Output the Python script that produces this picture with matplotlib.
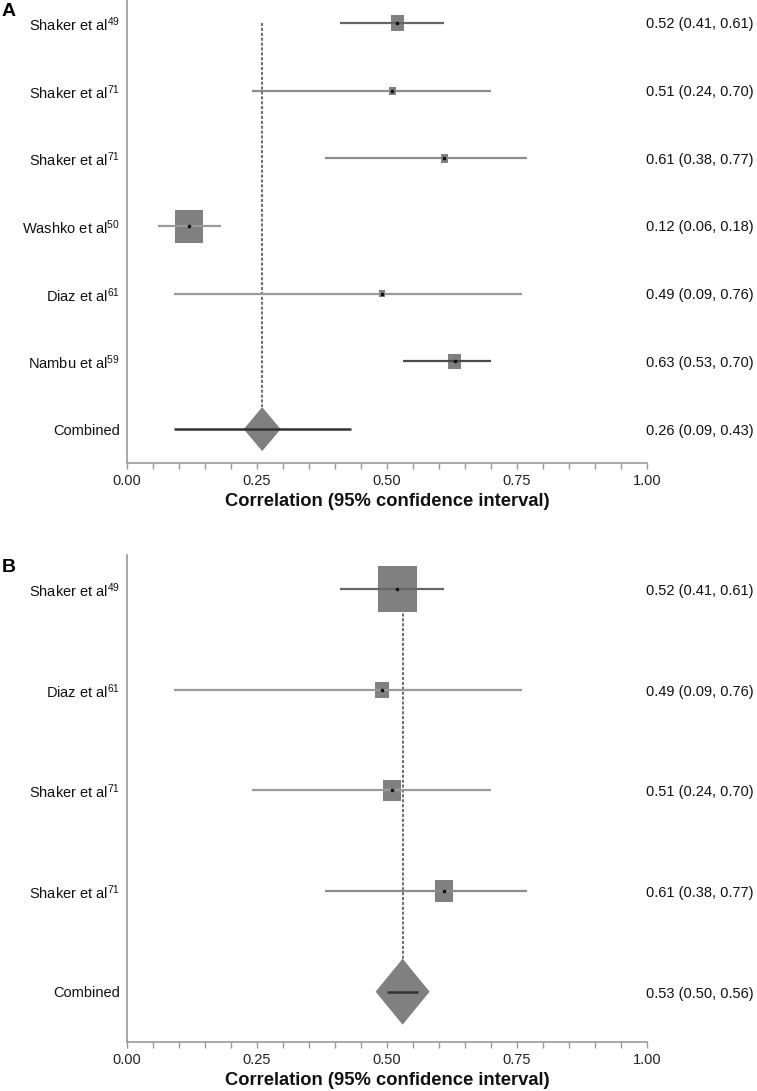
import matplotlib
matplotlib.use("Agg")
import matplotlib.pyplot as plt
from matplotlib.patches import Rectangle, Polygon
from matplotlib.ticker import MultipleLocator

# panel A
studies_a = ["Shaker et al$^{49}$", "Shaker et al$^{71}$", "Shaker et al$^{71}$",
             "Washko et al$^{50}$", "Diaz et al$^{61}$", "Nambu et al$^{59}$"]
r_a = [0.52, 0.51, 0.61, 0.12, 0.49, 0.63]
lo_a = [0.41, 0.24, 0.38, 0.06, 0.09, 0.53]
hi_a = [0.61, 0.70, 0.77, 0.18, 0.76, 0.70]
comb_a = (0.26, 0.09, 0.43)

# panel B
studies_b = ["Shaker et al$^{49}$", "Diaz et al$^{61}$", "Shaker et al$^{71}$", "Shaker et al$^{71}$"]
r_b = [0.52, 0.49, 0.51, 0.61]
lo_b = [0.41, 0.09, 0.24, 0.38]
hi_b = [0.61, 0.76, 0.70, 0.77]
comb_b = (0.53, 0.50, 0.56)

# styling (box side in px, line colours)
box_a = [13, 7, 7, 28, 6, 13]
line_a = ["#666666", "#8c8c8c", "#8c8c8c", "#9a9a9a", "#9a9a9a", "#4a4a4a"]
box_b = [39, 14, 18, 18]
line_b = ["#666666", "#9a9a9a", "#9a9a9a", "#8c8c8c"]

plt.rcParams.update({
    "font.family": ["Liberation Sans", "DejaVu Sans"],
    "mathtext.default": "regular",
    "font.size": 10.5,
})

W, H = 757, 1091
fig = plt.figure(figsize=(W / 100, H / 100), dpi=100)
BOXC, DIAC, SPINE = "#808080", "#808080", "#9a9a9a"


def fmt(e, l, h):
    return f"{e:.2f} ({l:.2f}, {h:.2f})"


def panel(top_px, bot_px, names, est, lo, hi, comb, boxes, lcols, diam_hw, diam_hh, letter):
    left_px, right_px = 127, 647
    ax = fig.add_axes([left_px / W, 1 - bot_px / H, (right_px - left_px) / W, (bot_px - top_px) / H])
    n = len(names)
    ax.set_xlim(0, 1)
    ax.set_ylim(n + 0.5, -0.34)
    row_px = (bot_px - top_px) / (n + 0.84)
    xpx = right_px - left_px
    for i in range(n):
        ax.plot([lo[i], hi[i]], [i, i], color=lcols[i], lw=1.6, solid_capstyle="butt", zorder=3)
        w = boxes[i] / xpx
        h = boxes[i] * 1.18 / row_px
        ax.add_patch(Rectangle((est[i] - w / 2, i - h / 2), w, h, facecolor=BOXC,
                               edgecolor="none", zorder=2))
        ax.plot(est[i], i, marker="s", ms=1.5, color="#111111", zorder=4)
    e, l, h = comb
    dw = diam_hw / xpx
    dh = diam_hh / row_px
    ax.add_patch(Polygon([(e - dw, n), (e, n - dh), (e + dw, n), (e, n + dh)],
                         closed=True, facecolor=DIAC, edgecolor="none", zorder=2))
    ax.plot([l, h], [n, n], color="#333333", lw=1.8, solid_capstyle="butt", zorder=3)
    ax.plot([e, e], [0, n - dh], color="#444444", lw=1.1, ls=(0, (2, 1.2)), zorder=1)

    ax.set_yticks(range(n + 1), names + ["Combined"])
    xr = (754 - left_px) / xpx
    for i, (a, b, c) in enumerate(zip(est, lo, hi)):
        ax.text(xr, i + 0.02, fmt(a, b, c), transform=ax.get_yaxis_transform(),
                ha="right", va="center", fontsize=10.5, color="#111111")
    ax.text(xr, n + 0.02, fmt(e, l, h), transform=ax.get_yaxis_transform(),
            ha="right", va="center", fontsize=10.5, color="#111111")

    ax.xaxis.set_major_locator(MultipleLocator(0.25))
    ax.xaxis.set_minor_locator(MultipleLocator(0.05))
    ax.xaxis.set_major_formatter(lambda v, p: f"{v:.2f}")
    ax.tick_params(axis="x", which="both", length=4, width=1, color=SPINE, direction="out",
                   labelsize=10.5, labelcolor="#222222", pad=4)
    ax.tick_params(axis="y", length=0, pad=5, labelsize=10.5, labelcolor="#111111")
    for s in ["top", "right"]:
        ax.spines[s].set_visible(False)
    for s in ["left", "bottom"]:
        ax.spines[s].set_color(SPINE)
        ax.spines[s].set_linewidth(1.2)
    ax.set_xlabel("Correlation (95% confidence interval)", fontsize=13.2,
                  fontweight="bold", labelpad=3.5, color="#111111")
    ax.patch.set_alpha(0)
    fig.text(2 / W, 1 - (top_px + 12) / H, letter, fontsize=14, fontweight="bold",
             ha="left", va="center")
    return ax


panel(0, 463, studies_a, r_a, lo_a, hi_a, comb_a, box_a, line_a, 18.5, 22, "A")
panel(555, 1042, studies_b, r_b, lo_b, hi_b, comb_b, box_b, line_b, 27, 33, "B")

fig.savefig("out.png", dpi=100, facecolor="white")
